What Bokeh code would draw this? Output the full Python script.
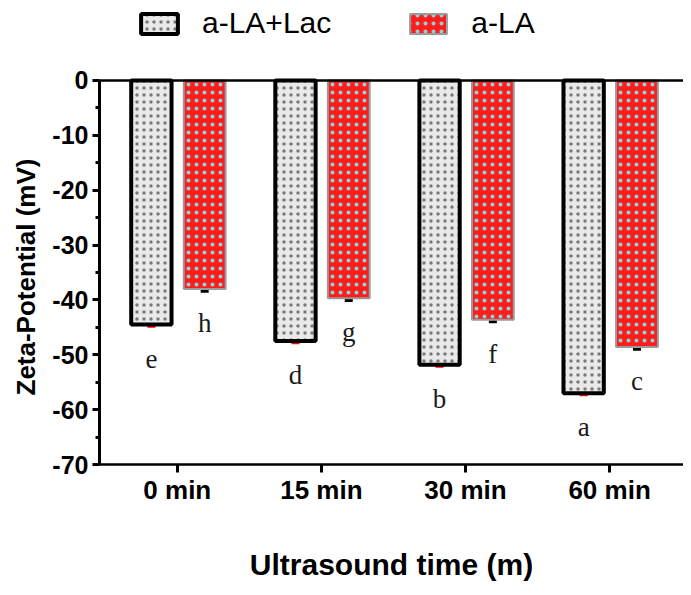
from bokeh.plotting import figure
from bokeh.models import (Range1d, FixedTicker, SingleIntervalTicker, Span, Title,
                          Legend, LegendItem, ColumnDataSource, Whisker, TeeHead)
from bokeh.core.properties import value
from bokeh.embed import file_html
from bokeh.resources import INLINE

categories = ["0 min", "15 min", "30 min", "60 min"]
lac_values = [-44.5, -47.5, -51.8, -57.0]
la_values = [-38.0, -39.7, -43.6, -48.6]
lac_err = [0.3, 0.3, 0.3, 0.3]
la_err = [0.4, 0.4, 0.4, 0.4]
lac_letters = ["e", "d", "b", "a"]
la_letters = ["h", "g", "f", "c"]
series_names = ["a-LA+Lac", "a-LA"]
y_ticks = [0, -10, -20, -30, -40, -50, -60, -70]

xs = list(range(len(categories)))
lac_x = [x - 0.18 for x in xs]
la_x = [x + 0.19 for x in xs]

p = figure(width=683, height=587, output_backend="svg", toolbar_location=None,
           x_range=Range1d(-0.54, 3.513), y_range=Range1d(-70, 14.583),
           min_border_left=98, min_border_right=0, min_border_top=0,
           min_border_bottom=123)
p.outline_line_color = None
p.grid.visible = False
p.background_fill_color = "white"

src_lac = ColumnDataSource(dict(x=lac_x, top=lac_values,
                                upper=[v + e for v, e in zip(lac_values, lac_err)],
                                lower=[v - e for v, e in zip(lac_values, lac_err)]))
src_la = ColumnDataSource(dict(x=la_x, top=la_values,
                               upper=[v + e for v, e in zip(la_values, la_err)],
                               lower=[v - e for v, e in zip(la_values, la_err)]))

r_lac = p.vbar(x="x", top="top", bottom=0, width=0.28, source=src_lac,
               fill_color="#e9e9e9", line_color="black", line_width=4,
               hatch_pattern="dot", hatch_color="#7a7a7a", hatch_scale=7, hatch_weight=2)
r_la = p.vbar(x="x", top="top", bottom=0, width=0.29, source=src_la,
              fill_color="#ff1c1c", line_color="#9a9a9a", line_width=2,
              hatch_pattern="dot", hatch_color="#86d6d6", hatch_scale=8, hatch_weight=5)

p.add_layout(Whisker(base="x", upper="upper", lower="lower", source=src_lac,
                     line_color="red", line_width=3,
                     upper_head=TeeHead(size=8, line_color="red", line_width=3),
                     lower_head=TeeHead(size=8, line_color="red", line_width=3)))
p.add_layout(Whisker(base="x", upper="upper", lower="lower", source=src_la,
                     line_color="black", line_width=3,
                     upper_head=TeeHead(size=8, line_color="black", line_width=3),
                     lower_head=TeeHead(size=8, line_color="black", line_width=3)))

p.text(x=lac_x, y=[v - 6.2 for v in lac_values], text=lac_letters,
       text_align="center", text_baseline="alphabetic",
       text_font=value("Liberation Serif"), text_font_size="27px", text_color="#1a1a1a")
p.text(x=la_x, y=[v - 6.2 for v in la_values], text=la_letters,
       text_align="center", text_baseline="alphabetic",
       text_font=value("Liberation Serif"), text_font_size="27px", text_color="#1a1a1a")

# zero line at the top of the bars
p.add_layout(Span(location=0, dimension="width", line_color="black", line_width=2.5))

# x axis
xa = p.xaxis[0]
xa.ticker = FixedTicker(ticks=xs)
xa.major_label_overrides = {x: c for x, c in zip(xs, categories)}
xa.minor_tick_line_color = None
xa.major_tick_in = 0
xa.major_tick_out = 8
xa.major_tick_line_width = 3
xa.axis_line_width = 2.5
xa.axis_line_color = "black"
xa.major_tick_line_color = "black"
xa.major_label_text_color = "black"
xa.major_label_text_font = "Liberation Sans"
xa.major_label_text_font_style = "bold"
xa.major_label_text_font_size = "26px"
xa.major_label_standoff = 2
xa.axis_label = "Ultrasound time (m)"
xa.axis_label_text_color = "black"
xa.axis_label_text_font = "Liberation Sans"
xa.axis_label_text_font_style = "bold"
xa.axis_label_text_font_size = "30px"
xa.axis_label_standoff = 40

# y axis
ya = p.yaxis[0]
ya.bounds = (-70, 0)
ya.ticker = SingleIntervalTicker(interval=10, num_minor_ticks=2)
ya.major_label_overrides = {t: str(t) for t in y_ticks}
ya.major_tick_in = 0
ya.major_tick_out = 7
ya.minor_tick_in = 0
ya.minor_tick_out = 4
ya.major_tick_line_width = 3
ya.minor_tick_line_width = 3
ya.axis_line_width = 3
ya.axis_line_color = "black"
ya.major_tick_line_color = "black"
ya.minor_tick_line_color = "black"
ya.major_label_text_color = "black"
ya.major_label_text_font = "Liberation Sans"
ya.major_label_text_font_style = "bold"
ya.major_label_text_font_size = "25px"
ya.major_label_standoff = 4

# y-axis title placed along the 0..-70 span (below the legend area)
ytitle = Title(text="Zeta-Potential (mV)", align="left", offset=69,
               text_color="black", text_font="Liberation Sans",
               text_font_style="bold", text_font_size="26px", standoff=17)
p.add_layout(ytitle, "left")

legend = Legend(items=[LegendItem(label=series_names[0], renderers=[r_lac]),
                       LegendItem(label=series_names[1], renderers=[r_la])],
                orientation="horizontal", location=(37, 424), spacing=74,
                label_standoff=20, glyph_width=46, glyph_height=25,
                padding=0, margin=0, border_line_color=None,
                background_fill_alpha=0, label_text_color="black",
                label_text_font="Liberation Sans", label_text_font_size="30px")
p.add_layout(legend)

open("out.html", "w").write(file_html(p, INLINE))
